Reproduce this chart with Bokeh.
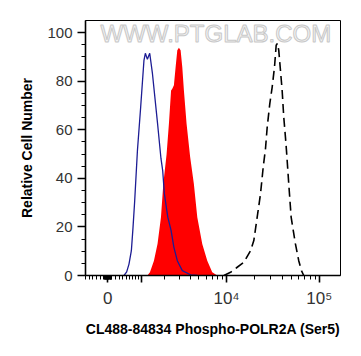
import numpy as np
from bokeh.plotting import figure
from bokeh.models import Range1d, FixedTicker, Label
from bokeh.embed import file_html
from bokeh.resources import INLINE

# ---- data (fluorescence intensity, relative cell number) ----
control_x = [437, 514, 582, 654, 704, 759, 849, 960, 1080, 1133, 1212, 1307, 1423,
             1660, 1832, 1925, 2016, 2218, 2425, 2617, 2864, 3265, 4043, 4797]
control_y = [0, 1.5, 4.7, 10.2, 19.5, 30.8, 51.5, 69.3, 88.6, 91.5, 89.0, 91.5, 83.2,
             62.6, 48.2, 43.2, 33.7, 24.0, 18.6, 11.6, 6.1, 2.0, 0.3, 0]

sample_x = [1212, 1316, 1490, 1660, 1832, 1960, 2147, 2287, 2425, 2506, 2617, 2738,
            2864, 2988, 3124, 3265, 3405, 3648, 3993, 4399, 4797, 5442, 6173, 6998, 7925]
sample_y = [0, 1.3, 6.1, 13.1, 24.0, 37.9, 50.0, 62.5, 76.2, 76.9, 78.3, 85.8,
            92.7, 93.8, 92.7, 85.8, 76.2, 62.5, 49.0, 37.7, 24.0, 13.0, 6.1, 1.3, 0]

positive_x = [9350, 11046, 13038, 15367, 18150, 19700, 21417, 23251, 24864, 26329,
              27457, 29270, 31072, 32895, 34308, 35425, 36574, 38144, 39778, 41401,
              43182, 44268, 46871, 49717, 55282, 60025, 64189, 67930]
positive_y = [0, 1.3, 3.4, 5.4, 10.2, 14.4, 24.0, 33.6, 44.6, 52.3,
              61.1, 70.7, 77.6, 85.8, 94.8, 95.6, 92.7, 84.5, 76.2, 65.2,
              56.9, 51.5, 37.7, 24.0, 13.0, 6.1, 2.0, 0]

x_major = [0, 1000, 10000, 100000]
x_major_labels = ["0", "", "10\u2074", "10\u2075"]
y_major = [0, 20, 40, 60, 80, 100]

# biexponential-like display transform
C = 1054.0
def tr(v):
    return np.arcsinh(np.asarray(v, dtype=float) / C)

x_minor = ([-s * m for s in (10, 100) for m in range(1, 10)] +
           [s * m for s in (10, 100, 1000, 10000) for m in range(1, 10)])
x_minor = [v for v in x_minor if v not in x_major and v >= -610]

p = figure(width=353, height=348, output_backend="svg", toolbar_location=None,
           x_range=Range1d(float(tr(-610)), float(tr(169000))), y_range=Range1d(0, 105))
p.min_border_left = 85
p.min_border_right = 13
p.min_border_top = 20
p.min_border_bottom = 73
p.grid.visible = False
p.outline_line_color = "black"
p.outline_line_width = 1
p.background_fill_color = "white"
p.border_fill_color = "white"

wm = Label(x=2.68, y=99.6, x_units="data", y_units="data", text="WWW.PTGLAB.COM",
           text_align="center", text_baseline="middle", text_font="Liberation Sans",
           text_font_size="24px", text_color="#f5f5f5",
           text_outline_color="#c8c8c8")
p.add_layout(wm)

p.varea(x=tr(sample_x), y1=0, y2=sample_y, fill_color="#ff0000", fill_alpha=1)
p.line(tr(control_x), control_y, line_color="#1c1c94", line_width=1.3)
p.line(tr(positive_x), positive_y, line_color="black", line_width=1.6, line_dash="9 5")

xt = [float(v) for v in tr(x_major)]
p.xaxis.ticker = FixedTicker(ticks=xt, minor_ticks=[float(v) for v in tr(x_minor)])
p.xaxis.major_label_overrides = {t: l for t, l in zip(xt, x_major_labels)}
p.yaxis.ticker = FixedTicker(ticks=y_major, minor_ticks=[v for v in range(5, 105, 5) if v % 20])

for ax in (p.xaxis[0], p.yaxis[0]):
    ax.axis_line_width = 1.6
    ax.axis_line_color = "black"
    ax.major_tick_in = 0
    ax.minor_tick_in = 0
    ax.major_tick_line_width = 1.6
    ax.minor_tick_line_width = 1
    ax.major_label_text_font = "Liberation Sans"
    ax.major_label_text_font_size = "15px"
    ax.major_label_text_color = "#333333"
    ax.axis_label_text_font = "Liberation Sans"
    ax.axis_label_text_font_style = "bold"
    ax.axis_label_text_font_size = "14px"
    ax.axis_label_text_color = "black"

p.xaxis.major_tick_out = 7
p.xaxis.minor_tick_out = 4
p.yaxis.major_tick_out = 8
p.yaxis.minor_tick_out = 4
p.xaxis.major_label_standoff = 6
p.yaxis.major_label_standoff = 5
p.xaxis.major_label_text_font_size = "17px"
p.xaxis.axis_label = "CL488-84834 Phospho-POLR2A (Ser5)"
p.yaxis.axis_label = "Relative Cell Number"
p.xaxis.axis_label_standoff = 10
p.yaxis.axis_label_standoff = 9

open("out.html", "w").write(file_html(p, INLINE))
